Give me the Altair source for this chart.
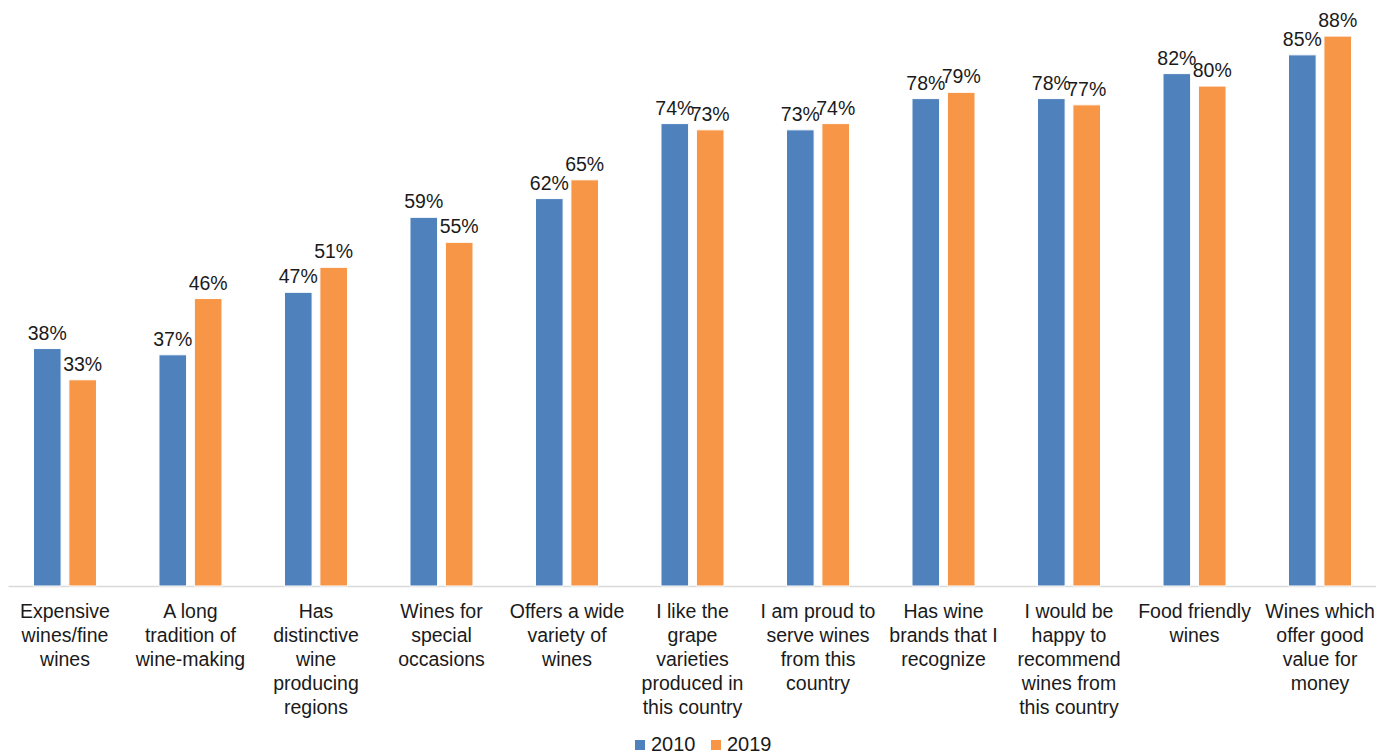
import altair as alt
import pandas as pd

categories = [
    "Expensive|wines/fine|wines",
    "A long|tradition of|wine-making",
    "Has|distinctive|wine|producing|regions",
    "Wines for|special|occasions",
    "Offers a wide|variety of|wines",
    "I like the|grape|varieties|produced in|this country",
    "I am proud to|serve wines|from this|country",
    "Has wine|brands that I|recognize",
    "I would be|happy to|recommend|wines from|this country",
    "Food friendly|wines",
    "Wines which|offer good|value for|money",
]
series = ["2010", "2019"]
values_2010 = [38, 37, 47, 59, 62, 74, 73, 78, 78, 82, 85]
values_2019 = [33, 46, 51, 55, 65, 73, 74, 79, 77, 80, 88]
colors = ["#4F81BD", "#F79646"]

rows = []
for c, a, b in zip(categories, values_2010, values_2019):
    rows.append({"cat": c, "year": "2010", "v": a / 100})
    rows.append({"cat": c, "year": "2019", "v": b / 100})
df = pd.DataFrame(rows)

FONT = "Liberation Sans"
TXT = "#1a1a1a"

x = alt.X("cat:N", sort=categories, title=None,
          scale=alt.Scale(paddingInner=0.498, paddingOuter=0.199, align=0.51, round=False),
          axis=alt.Axis(labelAngle=0, ticks=False, domainColor="#D9D9D9", domainWidth=1.3,
                        labelExpr="split(datum.label, '|')", labelFontSize=19.5,
                        labelLineHeight=24, labelPadding=16, labelLimit=0,
                        labelColor=TXT, labelFont=FONT))
xo = alt.XOffset("year:N", sort=series, scale=alt.Scale(paddingInner=0.22))
y = alt.Y("v:Q", axis=None, scale=alt.Scale(domain=[0, 0.925], nice=False, zero=True))
color = alt.Color("year:N", sort=series, scale=alt.Scale(domain=series, range=colors),
                  legend=alt.Legend(title=None, orient="none", legendX=622, legendY=727,
                                    direction="horizontal", symbolType="square",
                                    symbolSize=100, symbolStrokeWidth=0, labelFontSize=20,
                                    labelFont=FONT, labelColor=TXT, labelOffset=1,
                                    columnPadding=10))

bars = alt.Chart(df).mark_bar(stroke="white", strokeWidth=1).encode(
    x=x, xOffset=xo, y=y, color=color)
labels = alt.Chart(df).mark_text(baseline="alphabetic", dy=-9, fontSize=19.5, font=FONT,
                                 color=TXT).encode(
    x=x, xOffset=xo, y=y, text=alt.Text("v:Q", format=".0%"))

chart = (bars + labels).properties(width=1368, height=578, padding=0).configure_view(
    stroke=None).configure_axis(grid=False)

chart.save("out.html", embed_options={"renderer": "svg", "actions": False})
